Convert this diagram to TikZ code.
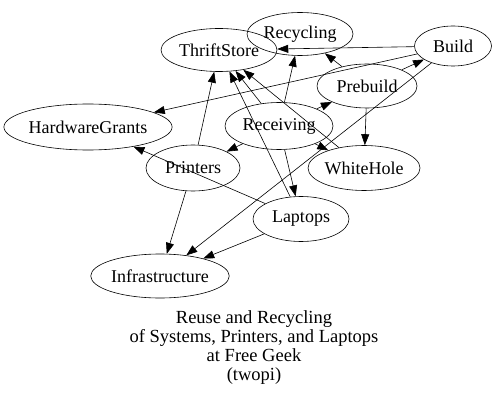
\documentclass[tikz,border=0pt]{standalone}
\usepackage{fontspec}
\setmainfont{Liberation Serif}
\usetikzlibrary{shapes.geometric,arrows.meta}
\begin{document}
\begin{tikzpicture}[x=1pt,y=-1pt,
  nd/.style={draw,ellipse,inner sep=0pt,font=\fontsize{18}{19}\selectfont},
  ed/.style={-{Triangle[length=11pt,width=8pt]},line width=0.6pt},
  every path/.style={line width=0.6pt}]
\useasboundingbox (0,0) rectangle (500,406);
\node[nd,minimum width=116pt,minimum height=43pt] (thrift) at (219,50) {ThriftStore};
\node[nd,minimum width=106pt,minimum height=43pt] (recyc) at (300,34) {Recycling};
\node[nd,minimum width=77pt,minimum height=40pt] (build) at (453,46) {Build};
\node[nd,minimum width=100pt,minimum height=44pt] (prebuild) at (367,86) {Prebuild};
\node[nd,minimum width=160pt,minimum height=46pt] (hwg) at (88,127) {HardwareGrants};
\node[nd,minimum width=108pt,minimum height=47pt] (recv) at (279,126) {Receiving};
\node[nd,minimum width=94pt,minimum height=46pt] (printers) at (193,168) {Printers};
\node[nd,minimum width=112pt,minimum height=45pt] (white) at (364,168) {WhiteHole};
\node[nd,minimum width=96pt,minimum height=45pt] (laptops) at (301,219) {Laptops};
\node[nd,minimum width=136pt,minimum height=44pt] (infra) at (160,276) {Infrastructure};
\draw[ed] (build) -- (thrift);
\draw[ed] (build) -- (hwg);
\draw[ed] (build) -- (infra);
\draw[ed] (prebuild) -- (build);
\draw[ed] (prebuild) -- (recyc);
\draw[ed] (prebuild) -- (white);
\draw[ed] (recv) -- (prebuild);
\draw[ed] (recv) -- (recyc);
\draw[ed] (recv) -- (thrift);
\draw[ed] (recv) -- (printers);
\draw[ed] (recv) -- (white);
\draw[ed] (recv) -- (laptops);
\draw[ed] (printers) -- (thrift);
\draw[ed] (printers) -- (infra);
\draw[ed] (laptops) -- (thrift);
\draw[ed] (laptops) -- (hwg);
\draw[ed] (laptops) -- (infra);
\draw[ed] (white) -- (thrift);
\node[align=center,font=\fontsize{18.5}{19}\selectfont,inner sep=0pt] (cap) at (254,348) {Reuse and Recycling\\of Systems, Printers, and Laptops\\at Free Geek\\(twopi)};
\end{tikzpicture}
\end{document}
